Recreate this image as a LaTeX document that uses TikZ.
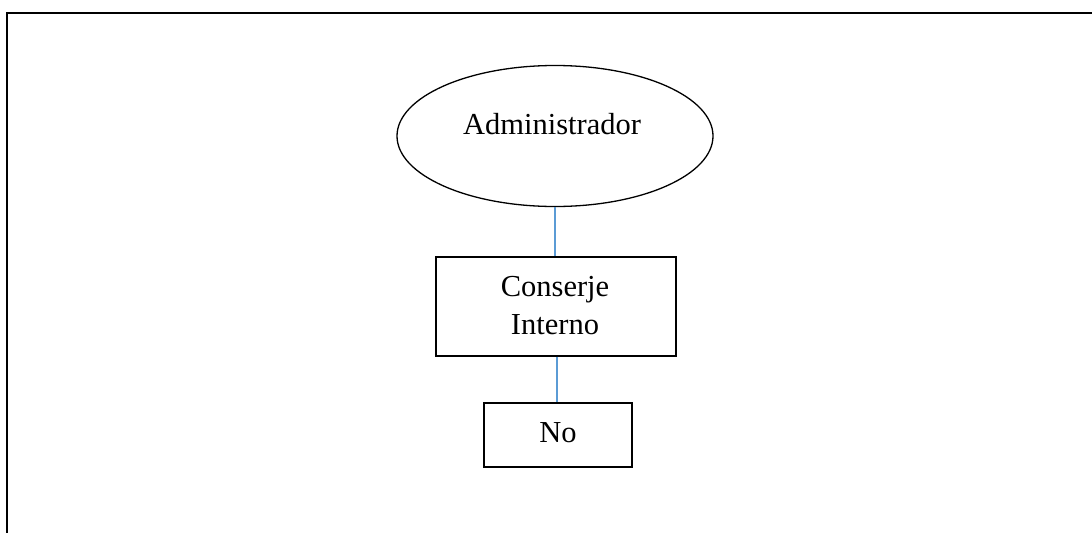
\documentclass[tikz,border=0pt]{standalone}
\usepackage{fontspec}
\setmainfont{Liberation Serif}
\usetikzlibrary{shapes.geometric}
\begin{document}
\begin{tikzpicture}[x=1pt,y=-1pt,
  frameline/.style={line width=2.2pt,black},
  shapeline/.style={draw=black,line width=1.3pt,fill=white,inner sep=0pt},
  link/.style={draw={rgb,255:red,91;green,155;blue,213},line width=1.4pt},
  lbl/.style={font=\fontsize{30.5}{38}\selectfont,align=center,inner sep=0pt}]
  \useasboundingbox (0,0) rectangle (1092,533);
  % frame: top and left edges only
  \coordinate (ftop) at (1092,13);
  \coordinate (fcorner) at (7,13);
  \coordinate (fbottom) at (7,533);
  \draw[frameline] (ftop) -- (fcorner) -- (fbottom);
  % nodes
  \node[shapeline,ellipse,minimum width=316,minimum height=141] (admin) at (555,136) {};
  \node[lbl,anchor=base] (admintext) at (552,134) {Administrador};
  \node[shapeline,rectangle,minimum width=240,minimum height=99] (conserje) at (556,306.5) {};
  \node[lbl] (conserjetext) at (555,306) {Conserje\\Interno};
  \node[shapeline,rectangle,minimum width=148,minimum height=64] (no) at (558,435) {};
  \node[lbl,anchor=base] (notext) at (558,442) {No};
  % vertical connectors
  \draw[link] (admin.south) -- (admin.south |- conserje.north);
  \draw[link] ([xshift=-1pt]no.north |- conserje.south) -- ([xshift=-1pt]no.north);
\end{tikzpicture}
\end{document}
